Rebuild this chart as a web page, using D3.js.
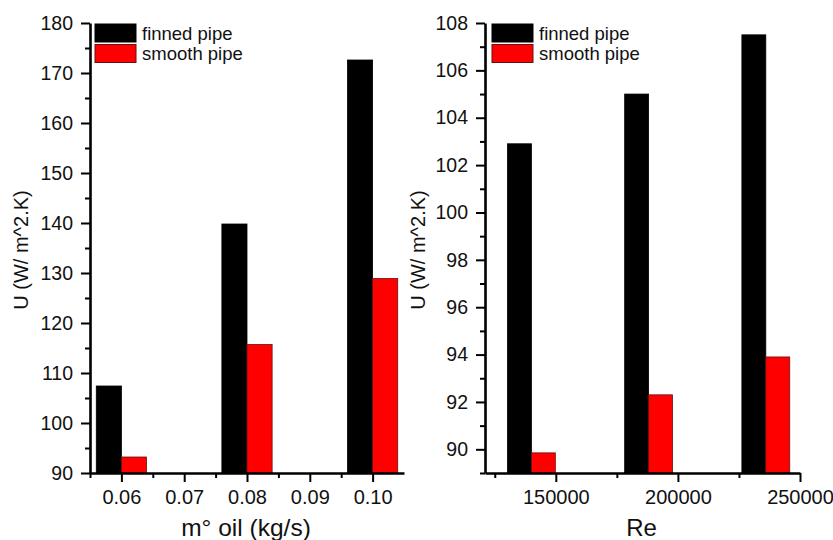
<!DOCTYPE html>
<html><head><meta charset="utf-8">
<script src="https://cdn.jsdelivr.net/npm/d3@7"></script>
<style>
html,body{margin:0;padding:0;background:#fff;}
svg{display:block;font-family:"Liberation Sans",Arial,sans-serif;}
</style></head>
<body>
<svg id="c" width="833" height="540"></svg>
<script>
// ---- data ----
const seriesNames = ["finned pipe", "smooth pipe"];
const seriesColors = ["#000000", "#ff0000"];

// left panel: mass flow of oil
const mOil = [0.06, 0.08, 0.10];
const finnedByOil = [107.4, 139.8, 172.6];
const smoothByOil = [93.2, 115.7, 128.9];
const oilTicks = [0.06, 0.07, 0.08, 0.09, 0.10];
const oilTickLabels = ["0.06", "0.07", "0.08", "0.09", "0.10"];
const leftYTicks = [90, 100, 110, 120, 130, 140, 150, 160, 170, 180];

// right panel: Reynolds number
const reValues = [140000, 188000, 236000];
const finnedByRe = [102.9, 105.0, 107.5];
const smoothByRe = [89.85, 92.3, 93.9];
const reTicks = [150000, 200000, 250000];
const rightYTicks = [90, 92, 94, 96, 98, 100, 102, 104, 106, 108];

const svg = d3.select("#c");

function panel(o) {
  const g = svg.append("g");
  const x = d3.scaleLinear().domain(o.xDomain).range([o.x0, o.x1]);
  const y = d3.scaleLinear().domain(o.yDomain).range([o.y0, o.y1]);

  // bars
  const series = [o.finned, o.smooth];
  series.forEach((vals, si) => {
    g.selectAll(null).data(o.cats).enter().append("rect")
      .attr("x", (d) => si === 0 ? x(d - o.barW) : x(d))
      .attr("width", (d) => x(d + o.barW) - x(d))
      .attr("y", (d, i) => y(vals[i]))
      .attr("height", (d, i) => y(o.yDomain[0]) - y(vals[i]))
      .attr("fill", seriesColors[si])
      .attr("stroke", si === 0 ? "#000" : "#6a1010")
      .attr("stroke-width", 0.8);
  });

  // minor ticks
  const yMinor = d3.axisLeft(y).tickValues(o.yMinor).tickSize(5).tickFormat("");
  const xMinor = d3.axisBottom(x).tickValues(o.xMinor).tickSize(5).tickFormat("");
  const ym = g.append("g").attr("transform", `translate(${o.x0},0)`).call(yMinor);
  const xm = g.append("g").attr("transform", `translate(0,${o.y0})`).call(xMinor);
  [ym, xm].forEach(a => { a.select(".domain").remove(); a.selectAll("line").attr("stroke", "#000").attr("stroke-width", 2); });

  // major axes
  const yAx = d3.axisLeft(y).tickValues(o.yTicks).tickSize(9).tickPadding(8).tickSizeOuter(0);
  const xAx = d3.axisBottom(x).tickValues(o.xTicks).tickSize(9).tickPadding(8).tickSizeOuter(0)
    .tickFormat(o.xFormat);
  const ya = g.append("g").attr("transform", `translate(${o.x0},0)`).call(yAx);
  const xa = g.append("g").attr("transform", `translate(0,${o.y0})`).call(xAx);
  [ya, xa].forEach(a => {
    a.select(".domain").attr("stroke", "#000").attr("stroke-width", 2.6);
    a.selectAll(".tick line").attr("stroke", "#000").attr("stroke-width", 2);
    a.selectAll(".tick text").attr("fill", "#111").style("font-size", "19.5px");
  });
  xa.selectAll(".tick text").style("font-size", "20px");

  // axis titles
  g.append("text").attr("transform", `translate(${o.yTitleX},${(o.y0 + o.y1) / 2 + 2}) rotate(-90)`)
    .attr("text-anchor", "middle").attr("dominant-baseline", "central")
    .style("font-size", "20px").attr("fill", "#111").text("U (W/ m^2.K)");
  g.append("text").attr("x", (o.x0 + o.x1) / 2 - 1).attr("y", 536)
    .attr("text-anchor", "middle").style("font-size", o.xTitleSize).attr("fill", "#111").text(o.xTitle);

  // legend
  const lg = g.append("g").attr("transform", `translate(${o.legX},24)`);
  seriesNames.forEach((n, i) => {
    lg.append("rect").attr("x", 0).attr("y", i * 20.5).attr("width", 41).attr("height", 18)
      .attr("fill", seriesColors[i]).attr("stroke", i === 0 ? "#000" : "#6a1010").attr("stroke-width", 1);
    lg.append("text").attr("x", 47).attr("y", i * 20.5 + 9).attr("dominant-baseline", "central")
      .style("font-size", "18.5px").attr("fill", "#111").text(n);
  });
}

panel({
  cats: mOil, finned: finnedByOil, smooth: smoothByOil,
  xDomain: [0.055, 0.105], x0: 90, x1: 404,
  yDomain: [90, 180], y0: 473, y1: 23,
  barW: 0.004,
  xTicks: oilTicks, xFormat: (d, i) => oilTickLabels[i],
  xMinor: [0.055, 0.065, 0.075, 0.085, 0.095],
  yTicks: leftYTicks, yMinor: [95, 105, 115, 125, 135, 145, 155, 165, 175],
  yTitleX: 21, xTitle: "m° oil (kg/s)", xTitleSize: "24.5px", legX: 95
});

panel({
  cats: reValues, finned: finnedByRe, smooth: smoothByRe,
  xDomain: [121000, 250000], x0: 485, x1: 800,
  yDomain: [89, 108], y0: 473, y1: 23,
  barW: 9800,
  xTicks: reTicks, xFormat: d3.format("d"),
  xMinor: [125000, 175000, 225000],
  yTicks: rightYTicks, yMinor: [89, 91, 93, 95, 97, 99, 101, 103, 105, 107],
  yTitleX: 418, xTitle: "Re", xTitleSize: "24px", legX: 492
});
</script>
</body></html>
